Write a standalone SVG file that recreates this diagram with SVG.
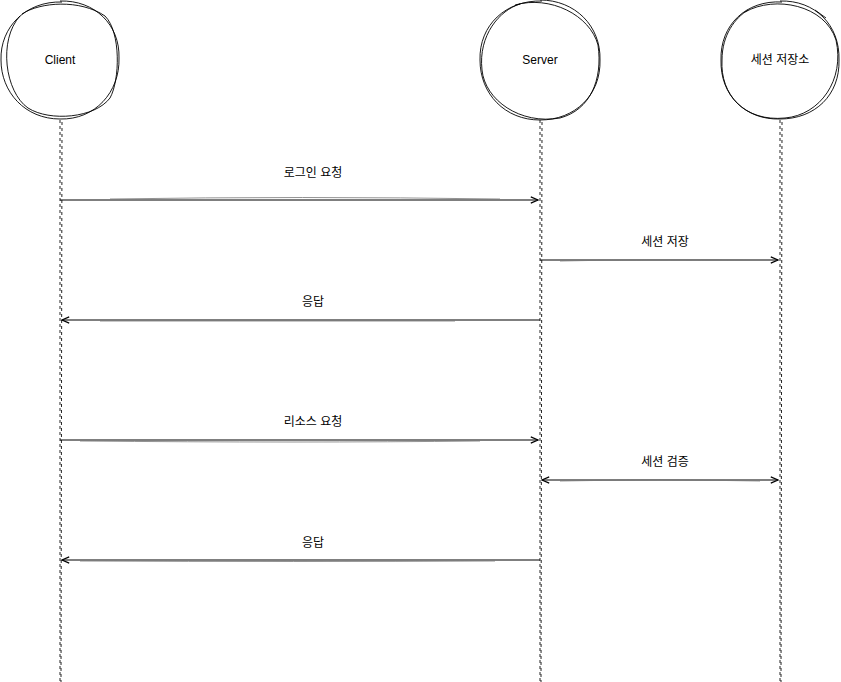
<svg xmlns="http://www.w3.org/2000/svg" width="841" height="682" viewBox="0 0 841 682">
<defs>
<style>
.node{fill:none;stroke:#000;stroke-width:0.9}
.life{fill:none;stroke:#222;stroke-width:1;stroke-dasharray:3 3}
.msg{fill:none;stroke:#000;stroke-width:1.1}
.ghost{fill:none;stroke:#777;stroke-width:0.8}
text{font-family:"Liberation Sans","Noto Sans CJK KR",sans-serif;font-size:12px;fill:#000;text-anchor:middle}
</style>
<marker id="ah" viewBox="0 0 10 10" refX="9" refY="5" markerWidth="9" markerHeight="9" markerUnits="userSpaceOnUse" orient="auto-start-reverse">
<path d="M1,1.5 L9,5 L1,8.5" fill="none" stroke="#000" stroke-width="1.3"/>
</marker>
</defs>
<rect width="841" height="682" fill="#fff"/>
<g id="client">
<path class="node" d="M60,1 C95,0 120,25 119,58 C120,92 95,120 60,119 C25,119 1,92 1,60 C0,27 26,1 62,2"/>
<path class="node" d="M22,14 C40,2 80,-1 105,16 C121,32 120,80 110,98 C95,118 50,122 28,108 C5,92 -2,40 20,16"/>
<text x="60" y="64">Client</text>
</g>
<g id="server">
<path class="node" d="M540,0 C575,0 601,26 600,60 C601,95 575,120 540,120 C505,120 480,94 480,60 C479,25 506,0 542,1"/>
<path class="node" d="M515,5 C550,-5 590,15 598,45 C603,80 590,110 560,118 C520,125 485,100 482,70 C478,35 500,10 520,4"/>
<text x="540" y="64">Server</text>
</g>
<g id="store">
<path class="node" d="M780,1 C815,0 840,25 839,60 C840,95 815,119 780,119 C745,120 720,95 721,60 C720,25 746,0 782,2"/>
<path class="node" d="M745,12 C775,-5 825,5 836,40 C845,80 820,115 785,118 C745,122 720,95 722,60 C722,35 735,18 748,10 M815,10 L826,18"/>
<text x="780" y="64">세션 저장소</text>
</g>
<g id="connectors">
<path class="life" d="M60,120 L60,682"/>
<path class="life" d="M62,122 L61,682"/>
<path class="life" d="M540,120 L540,682"/>
<path class="life" d="M542,122 L541,682"/>
<path class="life" d="M780,120 L780,682"/>
<path class="life" d="M782,122 L781,682"/>

<path class="msg" d="M60,200 L538,200" marker-end="url(#ah)"/>
<path class="ghost" d="M110,199 Q300,196 500,199"/>
<text x="313" y="177">로그인 요청</text>

<path class="msg" d="M540,260 L778,260" marker-end="url(#ah)"/>
<path class="ghost" d="M560,261 Q650,259 750,260"/>
<text x="665" y="246">세션 저장</text>

<path class="msg" d="M540,320 L62,320" marker-end="url(#ah)"/>
<path class="ghost" d="M100,321 L455,321"/>
<text x="313" y="306">응답</text>

<path class="msg" d="M60,440 L538,440" marker-end="url(#ah)"/>
<path class="ghost" d="M80,441 Q300,443 480,441"/>
<text x="313" y="426">리소스 요청</text>

<path class="msg" d="M542,480 L778,480" marker-start="url(#ah)" marker-end="url(#ah)"/>
<path class="ghost" d="M560,481 Q660,478 760,481"/>
<text x="665" y="466">세션 검증</text>

<path class="msg" d="M540,560 L62,560" marker-end="url(#ah)"/>
<path class="ghost" d="M80,561 Q300,562 495,561"/>
<text x="313" y="547">응답</text>
</g>
</svg>
